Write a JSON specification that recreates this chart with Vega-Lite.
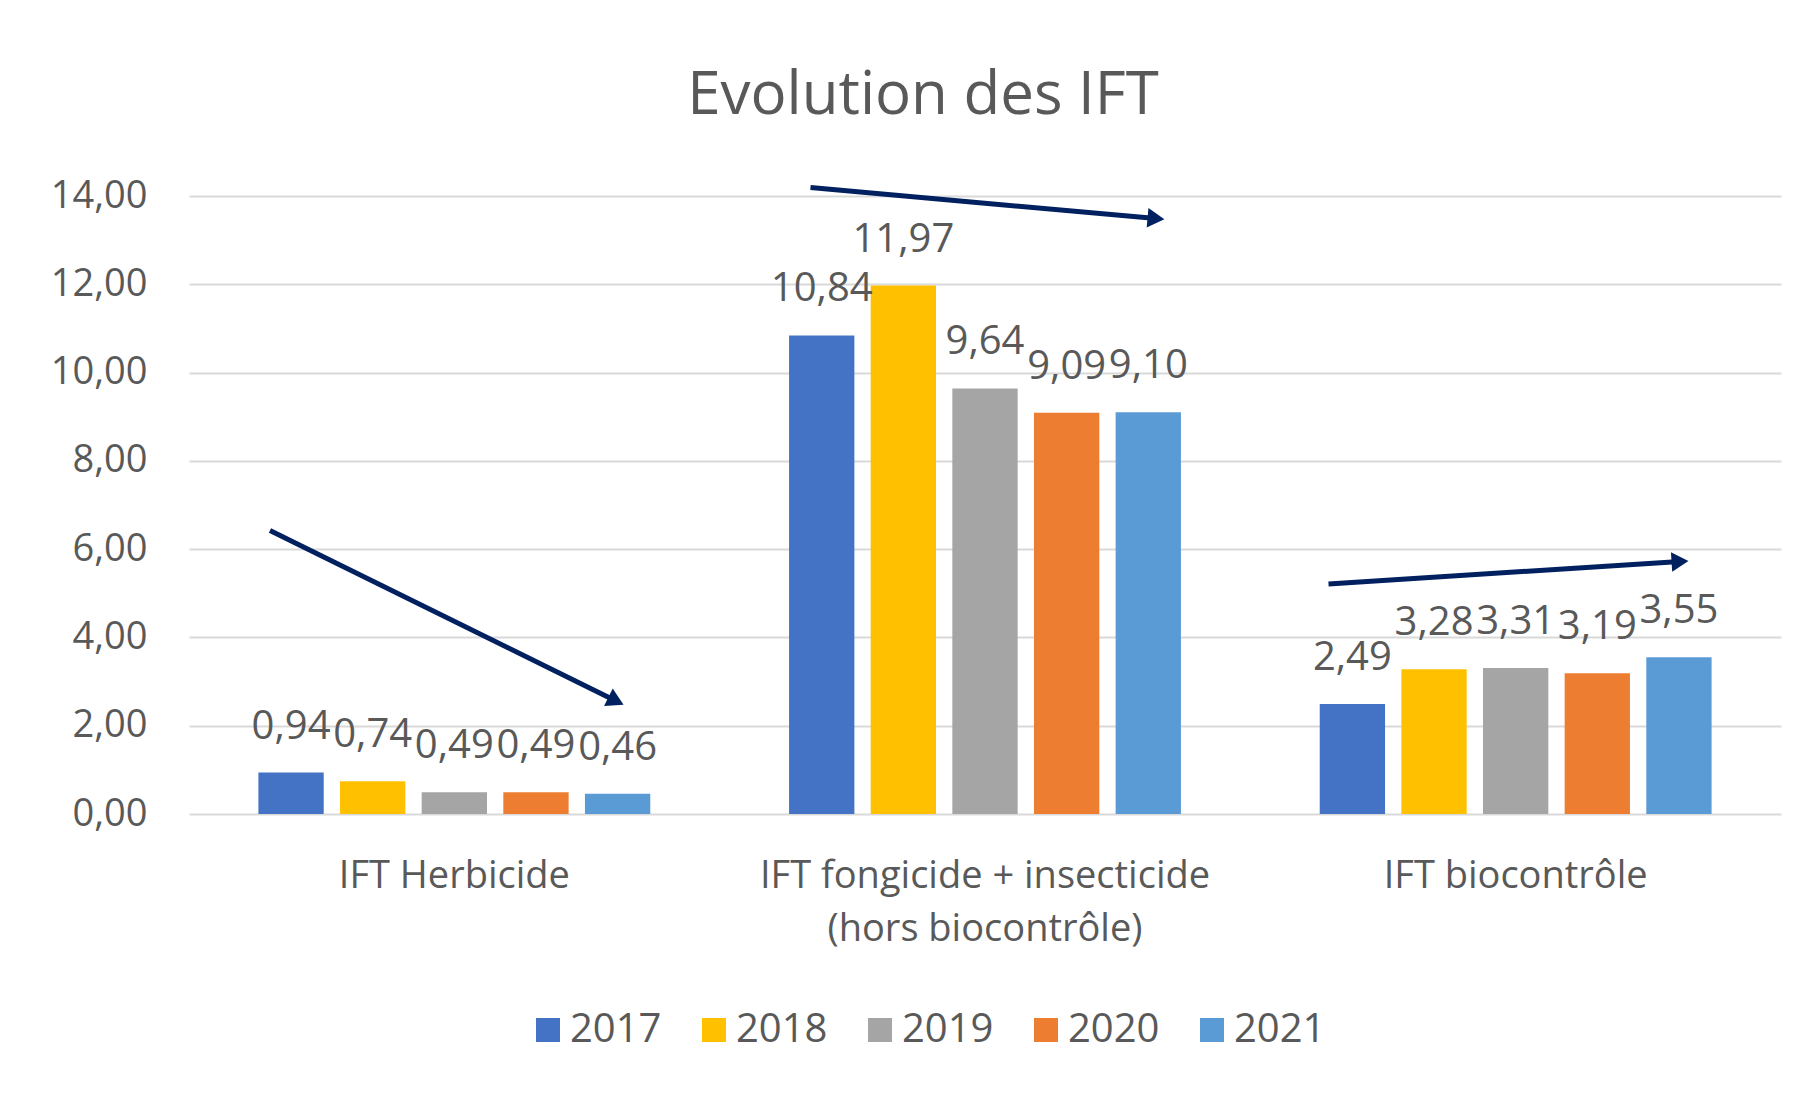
{
  "$schema": "https://vega.github.io/schema/vega-lite/v6.json",
  "width": 1592,
  "height": 618,
  "autosize": {"type": "none"},
  "padding": {"left": 189, "top": 196, "right": 38, "bottom": 285},
  "background": "white",
  "title": {
    "text": "Evolution des IFT",
    "fontSize": 60,
    "fontWeight": "normal",
    "color": "#595959",
    "font": "Open Sans",
    "anchor": "middle",
    "frame": "group",
    "dx": -62,
    "offset": 50
  },
  "datasets": {
    "ift": [
      {"categorie": "IFT Herbicide", "annee": "2017", "valeur": 0.94},
      {"categorie": "IFT Herbicide", "annee": "2018", "valeur": 0.74},
      {"categorie": "IFT Herbicide", "annee": "2019", "valeur": 0.49},
      {"categorie": "IFT Herbicide", "annee": "2020", "valeur": 0.49},
      {"categorie": "IFT Herbicide", "annee": "2021", "valeur": 0.46},
      {"categorie": "IFT fongicide + insecticide (hors biocontrôle)", "annee": "2017", "valeur": 10.84},
      {"categorie": "IFT fongicide + insecticide (hors biocontrôle)", "annee": "2018", "valeur": 11.97},
      {"categorie": "IFT fongicide + insecticide (hors biocontrôle)", "annee": "2019", "valeur": 9.64},
      {"categorie": "IFT fongicide + insecticide (hors biocontrôle)", "annee": "2020", "valeur": 9.09},
      {"categorie": "IFT fongicide + insecticide (hors biocontrôle)", "annee": "2021", "valeur": 9.10},
      {"categorie": "IFT biocontrôle", "annee": "2017", "valeur": 2.49},
      {"categorie": "IFT biocontrôle", "annee": "2018", "valeur": 3.28},
      {"categorie": "IFT biocontrôle", "annee": "2019", "valeur": 3.31},
      {"categorie": "IFT biocontrôle", "annee": "2020", "valeur": 3.19},
      {"categorie": "IFT biocontrôle", "annee": "2021", "valeur": 3.55}
    ],
    "fleches": [
      {"fleche": "herbicide", "x0": 0.1526, "y0": 6.42, "x1": 0.8046, "y1": 2.56},
      {"fleche": "fongicide", "x0": 1.1712, "y0": 14.19, "x1": 1.8222, "y1": 13.49},
      {"fleche": "biocontrole", "x0": 2.1473, "y0": 5.21, "x1": 2.8097, "y1": 5.72}
    ]
  },
  "layer": [
    {
      "data": {"name": "ift"},
      "encoding": {
        "x": {
          "field": "categorie",
          "type": "nominal",
          "sort": null,
          "scale": {"paddingInner": 0, "paddingOuter": 0},
          "axis": {
            "title": null,
            "domain": false,
            "ticks": false,
            "labelAngle": 0,
            "labelFontSize": 38,
            "labelColor": "#595959",
            "labelFont": "Open Sans",
            "labelPadding": 43,
            "labelBaseline": "top",
            "labelLineHeight": 53,
            "labelLimit": 0,
            "labelExpr": "datum.label == 'IFT fongicide + insecticide (hors biocontrôle)' ? ['IFT fongicide + insecticide', '(hors biocontrôle)'] : datum.label"
          }
        },
        "xOffset": {
          "field": "annee",
          "type": "nominal",
          "scale": {"paddingInner": 0.2, "paddingOuter": 0.85}
        },
        "y": {
          "field": "valeur",
          "type": "quantitative",
          "title": null,
          "scale": {"domain": [0, 14], "nice": false},
          "axis": {
            "values": [0, 2, 4, 6, 8, 10, 12, 14],
            "format": ".2f",
            "domain": false,
            "ticks": false,
            "grid": true,
            "gridColor": "#D9D9D9",
            "gridWidth": 2,
            "labelFontSize": 38,
            "labelColor": "#595959",
            "labelFont": "Open Sans",
            "labelPadding": 42
          }
        }
      },
      "layer": [
        {
          "mark": {"type": "bar"},
          "encoding": {
            "color": {
              "field": "annee",
              "type": "nominal",
              "scale": {
                "domain": ["2017", "2018", "2019", "2020", "2021"],
                "range": ["#4472C4", "#FFC000", "#A5A5A5", "#ED7D31", "#5B9BD5"]
              },
              "legend": {
                "title": null,
                "orient": "none",
                "direction": "horizontal",
                "legendX": 339,
                "legendY": 814,
                "symbolType": "square",
                "symbolSize": 576,
                "symbolStrokeWidth": 0,
                "labelFontSize": 40,
                "labelFont": "Open Sans",
                "labelColor": "#595959",
                "labelOffset": 2,
                "columnPadding": 32,
                "padding": 0
              }
            }
          }
        },
        {
          "mark": {
            "type": "text",
            "fontSize": 40,
            "font": "Open Sans",
            "color": "#595959",
            "baseline": "alphabetic",
            "align": "center",
            "dy": -34
          },
          "encoding": {
            "text": {"field": "valeur", "type": "quantitative", "format": ".2f"}
          }
        }
      ]
    },
    {
      "data": {"name": "fleches"},
      "encoding": {
        "x": {"field": "x1", "type": "quantitative", "scale": {"domain": [0, 3], "nice": false, "zero": false}, "axis": null},
        "y": {"field": "y1", "type": "quantitative", "title": null}
      },
      "layer": [
        {
          "mark": {"type": "rule", "color": "#002060", "strokeWidth": 5},
          "encoding": {
            "x": {"field": "x0", "type": "quantitative", "scale": {"domain": [0, 3], "nice": false, "zero": false}, "axis": null},
            "x2": {"field": "x1"},
            "y": {"field": "y0", "type": "quantitative", "title": null},
            "y2": {"field": "y1"}
          }
        },
        {
          "transform": [{"filter": "datum.fleche == 'herbicide'"}],
          "mark": {"type": "point", "shape": "triangle-right", "filled": true, "size": 380, "angle": 26.3, "color": "#002060", "opacity": 1, "strokeWidth": 0}
        },
        {
          "transform": [{"filter": "datum.fleche == 'fongicide'"}],
          "mark": {"type": "point", "shape": "triangle-right", "filled": true, "size": 380, "angle": 5.2, "color": "#002060", "opacity": 1, "strokeWidth": 0}
        },
        {
          "transform": [{"filter": "datum.fleche == 'biocontrole'"}],
          "mark": {"type": "point", "shape": "triangle-right", "filled": true, "size": 380, "angle": -3.65, "color": "#002060", "opacity": 1, "strokeWidth": 0}
        }
      ]
    }
  ],
  "resolve": {"scale": {"x": "independent"}},
  "config": {
    "font": "Open Sans",
    "view": {"stroke": null},
    "locale": {
      "number": {"decimal": ",", "thousands": " ", "grouping": [3], "currency": ["", " €"]}
    }
  }
}
